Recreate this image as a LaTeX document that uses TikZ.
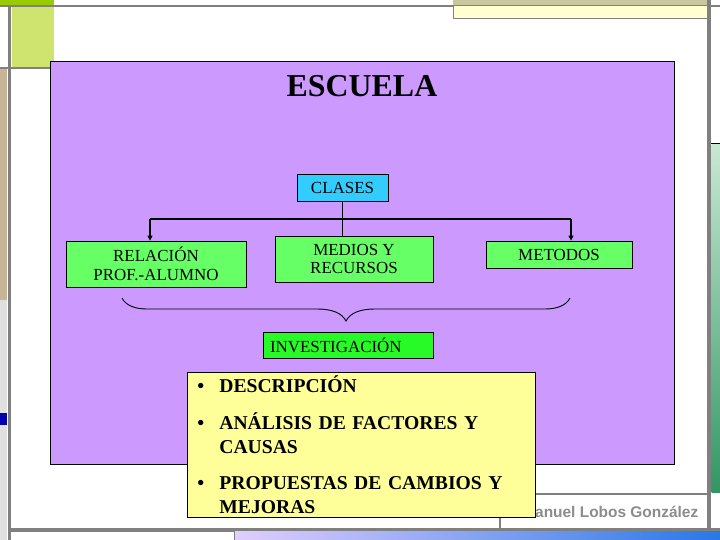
\documentclass[tikz,border=0pt]{standalone}
\usepackage{fontspec}
\setmainfont{Liberation Serif}
\newfontfamily\piefont{Liberation Sans}
\usetikzlibrary{arrows.meta, positioning}
\definecolor{lila}{RGB}{204,153,255}
\definecolor{verdecaja}{RGB}{102,255,102}
\definecolor{verdeinv}{RGB}{40,250,40}
\definecolor{celeste}{RGB}{51,204,255}
\definecolor{amarillo}{RGB}{255,255,153}
\definecolor{marco}{RGB}{128,128,128}
\definecolor{pie}{RGB}{140,140,140}
\definecolor{lima}{RGB}{153,204,0}
\definecolor{limaclaro}{RGB}{206,228,110}
\definecolor{caqui}{RGB}{200,200,160}
\definecolor{crema}{RGB}{255,255,210}
\definecolor{canela}{RGB}{200,180,150}
\definecolor{mentaclaro}{RGB}{200,232,212}
\definecolor{mentaoscuro}{RGB}{50,150,100}
\definecolor{lavanda}{RGB}{225,205,255}
\definecolor{azulbarra}{RGB}{40,120,230}

\begin{document}
\begin{tikzpicture}[x=1bp, y=-1bp,
  every node/.style={font=\fontsize{17}{18.5}\selectfont},
  panel/.style={draw=black, fill=lila, line width=0.8bp, minimum width=624bp, minimum height=403bp, inner sep=0pt},
  caja/.style={draw=black, fill=verdecaja, line width=0.8bp, align=center, inner sep=2bp},
  clase/.style={draw=black, fill=celeste, line width=0.8bp, inner sep=2bp, minimum width=91bp, minimum height=27bp},
  lista/.style={draw=black, fill=amarillo, line width=0.8bp, text width=328bp, inner xsep=10bp, inner ysep=3bp, align=left,
    font=\fontsize{19.7}{24}\selectfont\bfseries},
  linea/.style={line width=1.2bp},
  flecha/.style={line width=1.2bp, -{Triangle[length=5bp, width=5bp]}},
  llave/.style={line width=0.9bp}
]
\useasboundingbox (0,0) rectangle (720,540);

% fondo de la diapositiva
\fill[white] (0,0) rectangle (720,540);
\fill[canela] (0,68) rectangle (7,300);
\fill[black!12] (0,300) rectangle (7,540);
\fill[blue!70!black] (0,413) rectangle (7,425);
\fill[lima] (0,0) rectangle (54,5);
\fill[limaclaro] (12,7) rectangle (54,68);
\fill[marco] (0,5) rectangle (720,7.5);
\fill[marco] (0,67) rectangle (54,69.5);
\fill[marco] (7.5,5) rectangle (11,540);
\fill[caqui] (453,0) rectangle (710,5);
\draw[marco, fill=crema, line width=1bp] (453,6) rectangle (709,19);
\fill[marco] (707,0) rectangle (711,540);
\draw[black, line width=1bp] (711,144) -- (720,144);
\shade[top color=mentaclaro, bottom color=mentaoscuro] (711.5,145) rectangle (720,492);
\draw[marco, line width=1.2bp] (500,494) -- (709,494);
\draw[marco, line width=1.2bp] (500,494) -- (500,529);
\fill[marco] (10,528) rectangle (720,531.5);
\draw[marco, line width=1bp] (234,531) -- (234,540);
\shade[left color=lavanda, right color=azulbarra] (235,531.5) rectangle (720,540);
\node[font=\piefont\bfseries\fontsize{15.5}{17}\selectfont, text=pie, anchor=base west, inner sep=0pt] (autor) at (535,517) {anuel Lobos González};

% cuadro principal
\node[panel, anchor=north west] (escuela) at (50,61) {};
\node[font=\fontsize{32}{36}\selectfont\bfseries] (titulo) at (362,86) {ESCUELA};

\node[clase] (clases) at (342.5,187.5) {CLASES};
\node[caja, minimum width=180bp, minimum height=46bp] (rel) at (156,264) {RELACIÓN\\PROF.-ALUMNO};
\node[caja, minimum width=158bp, minimum height=46bp] (med) at (354,259) {MEDIOS Y\\RECURSOS};
\node[caja, minimum width=146bp, minimum height=27bp] (met) at (559,254.5) {METODOS};
\node[caja, fill=verdeinv, text width=156bp, inner xsep=7bp, align=left, minimum height=26bp] (inv) at (348,345) {INVESTIGACIÓN};

\coordinate (izq) at (150,219);
\coordinate (der) at (571,219);
\draw[linea] (clases.south) -- (clases.south |- med.north);
\draw[linea] (izq) -- (der);
\draw[flecha] (izq) -- (izq |- rel.north);
\draw[flecha] (der) -- (der |- met.north);

% llave
\draw[llave] (122,298) .. controls (126,306) and (136,309) .. (147,309) -- (317,309)
  .. controls (332,309) and (342,313) .. (346,321)
  .. controls (350,313) and (360,309) .. (375,309) -- (545,309)
  .. controls (556,309) and (566,306) .. (570,298);

\node[lista, anchor=north west] (puntos) at (187,372) {%
\makebox[22bp][l]{\textbullet}DESCRIPCIÓN\\[13bp]
\makebox[22bp][l]{\textbullet}ANÁLISIS DE FACTORES Y\\
\makebox[22bp][l]{}CAUSAS\\[13bp]
\makebox[22bp][l]{\textbullet}PROPUESTAS DE CAMBIOS Y\\
\makebox[22bp][l]{}MEJORAS};

\end{tikzpicture}
\end{document}
